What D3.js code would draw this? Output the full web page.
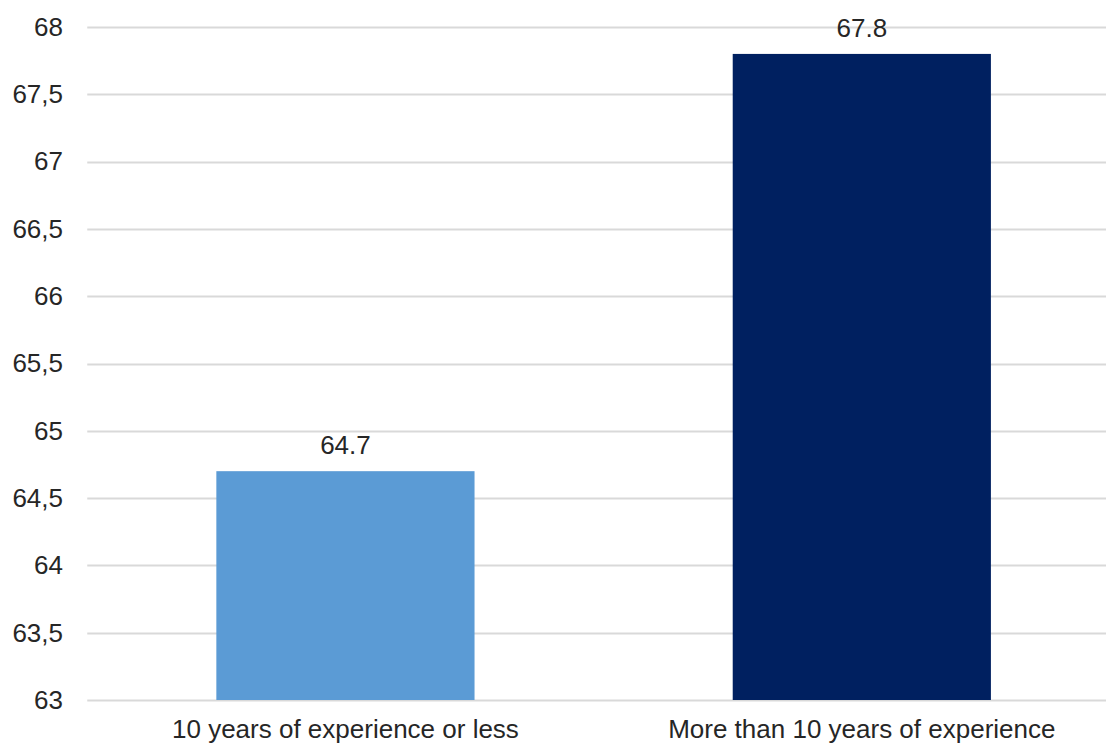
<!DOCTYPE html>
<html>
<head>
<meta charset="utf-8">
<script src="https://cdn.jsdelivr.net/npm/d3@7"></script>
<style>
html,body{margin:0;padding:0;background:#fff;}
svg{display:block;font-family:"Liberation Sans",Arial,sans-serif;}
</style>
</head>
<body>
<svg id="chart" width="1106" height="744"></svg>
<script>
const categories = ["10 years of experience or less", "More than 10 years of experience"];
const values = [64.7, 67.8];
const barColors = ["#5B9BD5", "#002060"];
const yTicks = [63, 63.5, 64, 64.5, 65, 65.5, 66, 66.5, 67, 67.5, 68];

(function () {
const svg = d3.select("#chart");
const plotLeft = 87.25, plotRight = 1120, plotTop = 27, plotBottom = 700;
const FS = 26;
const txt = "#262626";

const x = d3.scaleBand().domain(categories).range([plotLeft, plotRight])
  .paddingInner(0.5).paddingOuter(0.25);
const y = d3.scaleLinear().domain([63, 68]).range([plotBottom, plotTop]);

// gridlines
svg.append("g").selectAll("line").data(yTicks).join("line")
  .attr("x1", plotLeft).attr("x2", plotRight)
  .attr("y1", d => Math.round(y(d)) + 0.5).attr("y2", d => Math.round(y(d)) + 0.5)
  .attr("stroke", "#D9D9D9").attr("stroke-width", 2);

// y axis labels
const yAxis = d3.axisLeft(y).tickValues(yTicks).tickSize(0).tickPadding(0)
  .tickFormat(d => String(d).replace(".", ","));
const ya = svg.append("g").attr("transform", "translate(63,0)").call(yAxis);
ya.select(".domain").remove();
ya.selectAll("text").attr("font-size", FS).attr("fill", txt)
  .attr("font-family", "'Liberation Sans',Arial,sans-serif");

// bars
svg.append("g").selectAll("rect").data(values).join("rect")
  .attr("x", (d, i) => x(categories[i]))
  .attr("width", x.bandwidth())
  .attr("y", d => y(d))
  .attr("height", d => y(63) - y(d))
  .attr("fill", (d, i) => barColors[i]);

// value labels
svg.append("g").selectAll("text").data(values).join("text")
  .attr("x", (d, i) => x(categories[i]) + x.bandwidth() / 2)
  .attr("y", d => y(d) - 17)
  .attr("text-anchor", "middle")
  .attr("font-size", FS).attr("fill", txt)
  .text(d => d.toFixed(1));

// x axis labels
const xAxis = d3.axisBottom(x).tickSize(0).tickPadding(0);
const xa = svg.append("g").attr("transform", "translate(0,720)").call(xAxis);
xa.select(".domain").remove();
xa.selectAll("text").attr("font-size", FS).attr("fill", txt)
  .attr("font-family", "'Liberation Sans',Arial,sans-serif").attr("dy", "0.71em");
})();
</script>
</body>
</html>
